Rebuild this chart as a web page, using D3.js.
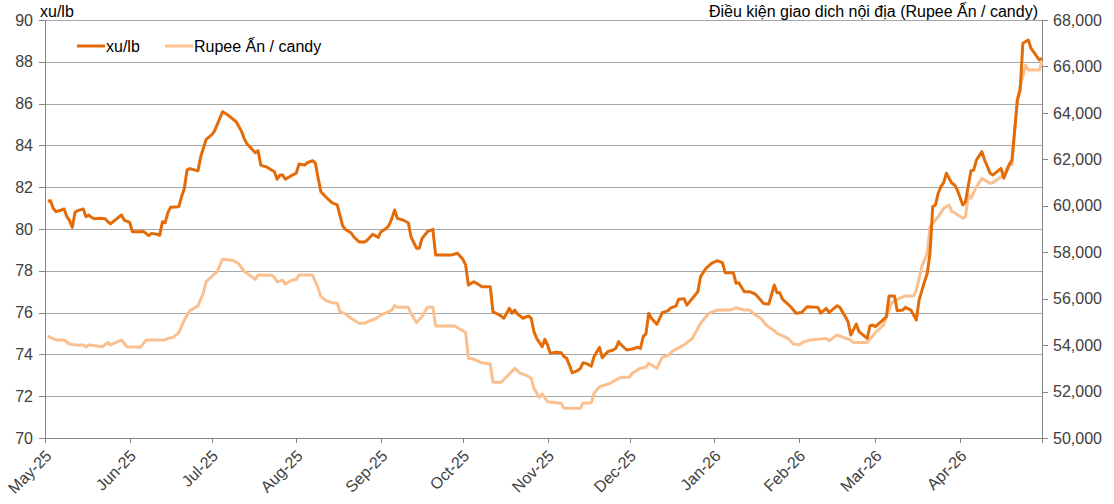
<!DOCTYPE html>
<html lang="vi">
<head>
<meta charset="UTF-8">
<title>xu/lb vs Rupee Ấn / candy</title>
<style>
  body { margin: 0; background: #fff; }
  svg { display: block; font-family: Arial, "Liberation Sans", sans-serif; }
  .grid line { stroke: #a6a6a6; stroke-width: 1; shape-rendering: crispEdges; }
  .axis path, .axis line { stroke: #868686; shape-rendering: crispEdges; }
  .axis text { fill: #404040; font-size: 16px; }
  .title { fill: #000; font-size: 16px; }
  .line { fill: none; stroke-width: 3; stroke-linejoin: round; }
</style>
</head>
<body>
<svg id="chart" width="1114" height="504"></svg>
<script src="https://d3js.org/d3.v7.min.js"></script>
<script>
// xu/lb (left axis)
var sugarDates = [
  "2025-05-02","2025-05-03","2025-05-04","2025-05-05","2025-05-07","2025-05-08","2025-05-09","2025-05-10","2025-05-11","2025-05-12","2025-05-13","2025-05-15","2025-05-16","2025-05-17","2025-05-18","2025-05-19","2025-05-21","2025-05-23","2025-05-24","2025-05-25","2025-05-27","2025-05-29","2025-05-30",
  "2025-06-01","2025-06-02","2025-06-04","2025-06-06","2025-06-07","2025-06-08","2025-06-09","2025-06-11","2025-06-12","2025-06-13","2025-06-14","2025-06-15","2025-06-16","2025-06-19","2025-06-20","2025-06-21","2025-06-22","2025-06-23","2025-06-26","2025-06-27","2025-06-29",
  "2025-07-01","2025-07-02","2025-07-05","2025-07-07","2025-07-10","2025-07-12","2025-07-13","2025-07-14","2025-07-17","2025-07-18","2025-07-19","2025-07-20","2025-07-21","2025-07-24","2025-07-25","2025-07-26","2025-07-27","2025-07-28","2025-07-30",
  "2025-08-01","2025-08-02","2025-08-04","2025-08-05","2025-08-07","2025-08-08","2025-08-09","2025-08-10","2025-08-12","2025-08-14","2025-08-16","2025-08-18","2025-08-19","2025-08-21","2025-08-22","2025-08-24","2025-08-26","2025-08-27","2025-08-29","2025-08-31",
  "2025-09-01","2025-09-03","2025-09-04","2025-09-05","2025-09-06","2025-09-07","2025-09-09","2025-09-11","2025-09-12","2025-09-14","2025-09-15","2025-09-16","2025-09-18","2025-09-20","2025-09-21","2025-09-27","2025-09-29",
  "2025-10-01","2025-10-02","2025-10-03","2025-10-05","2025-10-07","2025-10-08","2025-10-11","2025-10-12","2025-10-14","2025-10-16","2025-10-18","2025-10-19","2025-10-20","2025-10-21","2025-10-23","2025-10-25","2025-10-26","2025-10-27","2025-10-28","2025-10-30","2025-10-31",
  "2025-11-01","2025-11-02","2025-11-04","2025-11-06","2025-11-07","2025-11-08","2025-11-09","2025-11-10","2025-11-12","2025-11-13","2025-11-14","2025-11-15","2025-11-17","2025-11-18","2025-11-20","2025-11-21","2025-11-23","2025-11-25","2025-11-26","2025-11-27","2025-11-28","2025-11-30",
  "2025-12-02","2025-12-04","2025-12-05","2025-12-06","2025-12-07","2025-12-08","2025-12-09","2025-12-11","2025-12-13","2025-12-15","2025-12-16","2025-12-18","2025-12-19","2025-12-21","2025-12-22","2025-12-24","2025-12-26","2025-12-27","2025-12-29","2025-12-31",
  "2026-01-02","2026-01-04","2026-01-05","2026-01-08","2026-01-09","2026-01-10","2026-01-12","2026-01-14","2026-01-16","2026-01-18","2026-01-19","2026-01-21","2026-01-23","2026-01-24","2026-01-25","2026-01-26","2026-01-29","2026-01-31",
  "2026-02-02","2026-02-04","2026-02-08","2026-02-09","2026-02-11","2026-02-12","2026-02-15","2026-02-16","2026-02-18","2026-02-19","2026-02-20","2026-02-22","2026-02-23","2026-02-26","2026-02-27","2026-02-28",
  "2026-03-01","2026-03-03","2026-03-05","2026-03-06","2026-03-08","2026-03-09","2026-03-11","2026-03-12","2026-03-14","2026-03-16","2026-03-17","2026-03-19","2026-03-20","2026-03-21","2026-03-22","2026-03-23","2026-03-24","2026-03-25","2026-03-26","2026-03-27","2026-03-29","2026-03-30","2026-03-31",
  "2026-04-02","2026-04-03","2026-04-05","2026-04-06","2026-04-07","2026-04-09","2026-04-10","2026-04-12","2026-04-13","2026-04-16","2026-04-17","2026-04-19","2026-04-20","2026-04-22","2026-04-23","2026-04-24","2026-04-26","2026-04-27","2026-04-30","2026-05-01"
];
var sugarPrices = [
  81.34,81.35,80.99,80.83,80.91,80.96,80.59,80.40,80.08,80.80,80.88,80.96,80.59,80.67,80.56,80.49,80.51,80.49,80.35,80.25,80.46,80.67,80.43,
  80.32,79.87,79.87,79.88,79.79,79.68,79.79,79.75,79.70,80.35,80.30,80.78,81.04,81.07,81.55,81.93,82.82,82.89,82.78,83.46,84.29,
  84.50,84.67,85.61,85.45,85.13,84.66,84.29,84.07,83.65,83.75,83.06,83.01,82.98,82.74,82.38,82.58,82.58,82.38,82.54,
  82.67,83.11,83.06,83.17,83.27,83.14,82.43,81.78,81.51,81.26,81.15,80.14,79.98,79.82,79.63,79.38,79.38,79.47,79.75,79.60,
  79.87,80.03,80.19,80.51,80.91,80.51,80.43,80.30,79.63,79.08,79.08,79.54,79.87,79.98,78.76,78.76,78.84,
  78.55,78.28,77.32,77.48,77.32,77.24,77.24,76.04,75.92,75.73,76.21,75.97,76.12,75.93,75.73,75.84,75.73,75.09,74.77,74.37,74.72,
  74.45,74.05,74.10,74.08,73.89,73.81,73.49,73.12,73.22,73.33,73.60,73.57,73.44,73.89,74.34,73.84,74.13,74.21,74.29,74.61,74.45,74.21,
  74.26,74.34,74.29,74.85,74.98,75.97,75.73,75.44,76.00,76.08,76.21,76.32,76.64,76.66,76.36,76.68,77.00,77.72,78.12,78.36,
  78.48,78.39,77.91,77.91,77.40,77.43,77.00,77.00,76.89,76.60,76.44,76.41,77.32,76.95,76.95,76.64,76.28,75.97,
  76.00,76.28,76.25,75.97,76.20,76.00,76.33,76.25,75.80,75.56,74.93,75.45,75.09,74.77,75.36,75.41,
  75.33,75.56,75.80,76.79,76.79,76.09,76.12,76.25,76.12,75.65,76.60,77.48,77.88,78.84,81.07,81.15,81.71,82.03,82.22,82.67,82.19,82.11,81.87,
  81.15,81.31,82.79,82.82,83.30,83.70,83.30,82.67,82.58,82.90,82.43,83.06,83.30,86.17,86.65,88.89,89.04,88.64,88.09,88.17
];

// Rupee An / candy (right axis)
var rupeeDates = [
  "2025-05-02","2025-05-05","2025-05-08","2025-05-10","2025-05-12","2025-05-15","2025-05-16","2025-05-17","2025-05-22","2025-05-24","2025-05-25","2025-05-29","2025-05-31",
  "2025-06-05","2025-06-07","2025-06-14","2025-06-15","2025-06-17","2025-06-19","2025-06-21","2025-06-23","2025-06-26","2025-06-28","2025-06-29",
  "2025-07-01","2025-07-03","2025-07-05","2025-07-09","2025-07-11","2025-07-13","2025-07-14","2025-07-17","2025-07-18","2025-07-23","2025-07-24","2025-07-25","2025-07-27","2025-07-28","2025-07-30",
  "2025-08-01","2025-08-02","2025-08-07","2025-08-08","2025-08-09","2025-08-10","2025-08-12","2025-08-14","2025-08-16","2025-08-17","2025-08-19","2025-08-21","2025-08-24","2025-08-26","2025-08-28","2025-08-30",
  "2025-09-01","2025-09-03","2025-09-05","2025-09-06","2025-09-07","2025-09-11","2025-09-12","2025-09-14","2025-09-16","2025-09-18","2025-09-20","2025-09-21","2025-09-28","2025-09-30",
  "2025-10-02","2025-10-03","2025-10-05","2025-10-08","2025-10-11","2025-10-12","2025-10-15","2025-10-17","2025-10-20","2025-10-22","2025-10-24","2025-10-26","2025-10-27","2025-10-29","2025-10-30",
  "2025-11-01","2025-11-06","2025-11-07","2025-11-13","2025-11-14","2025-11-17","2025-11-18","2025-11-20","2025-11-24","2025-11-26","2025-11-28",
  "2025-12-01","2025-12-02","2025-12-05","2025-12-07","2025-12-08","2025-12-11","2025-12-13","2025-12-15","2025-12-17","2025-12-21","2025-12-24","2025-12-27","2025-12-29","2025-12-30",
  "2026-01-02","2026-01-07","2026-01-09","2026-01-12","2026-01-14","2026-01-16","2026-01-18","2026-01-20","2026-01-23","2026-01-24","2026-01-28","2026-01-30",
  "2026-02-01","2026-02-03","2026-02-05","2026-02-11","2026-02-12","2026-02-15","2026-02-17","2026-02-20","2026-02-21","2026-02-26","2026-02-28",
  "2026-03-01","2026-03-04","2026-03-05","2026-03-07","2026-03-09","2026-03-12","2026-03-15","2026-03-16","2026-03-18","2026-03-20","2026-03-21","2026-03-22","2026-03-24","2026-03-26","2026-03-28","2026-03-29","2026-03-30",
  "2026-04-02","2026-04-03","2026-04-04","2026-04-05","2026-04-07","2026-04-09","2026-04-12","2026-04-13","2026-04-17","2026-04-19","2026-04-20","2026-04-21","2026-04-22","2026-04-23","2026-04-25","2026-04-26","2026-04-30","2026-05-01"
];
var rupeePrices = [
  54390,54220,54220,54050,54010,54010,53910,54010,53930,54120,54010,54220,53930,
  53910,54220,54220,54290,54340,54540,55080,55480,55690,56260,56730,
  56950,57160,57700,57640,57490,57160,57090,56830,57020,57010,56920,56720,56800,56630,56780,
  56830,57020,57020,56730,56450,56090,55910,55830,55800,55440,55340,55160,54940,54940,55050,55130,
  55300,55400,55510,55700,55630,55630,55370,54970,55220,55630,55630,54820,54820,54680,
  54540,53430,53390,53240,53190,52400,52400,52640,53000,52790,52710,52570,52140,51750,51900,
  51560,51500,51280,51280,51500,51520,51930,52210,52360,52500,52620,
  52620,52790,53000,53050,53220,53000,53480,53550,53760,54010,54290,54940,55220,55370,
  55510,55510,55610,55510,55510,55300,55160,54870,54620,54510,54290,54050,
  54010,54150,54220,54290,54190,54440,54340,54220,54110,54110,54390,
  54540,54870,55200,55830,55970,56120,56120,56370,57380,57950,59100,59250,59530,59890,60030,59750,59700,
  59460,59530,60470,60320,60820,61180,60970,60990,61330,61830,61760,63260,64630,65130,66060,65850,65850,66200
];

var leftTicks = [70, 72, 74, 76, 78, 80, 82, 84, 86, 88, 90];
var rightTicks = [50000, 52000, 54000, 56000, 58000, 60000, 62000, 64000, 66000, 68000];
var seriesNames = ["xu/lb", "Rupee Ấn / candy"];
var leftTitle = "xu/lb";
var rightTitle = "Điều kiện giao dich nội địa (Rupee Ấn / candy)";

var parse = d3.utcParse("%Y-%m-%d");
var sugar = sugarDates.map(function (d, i) { return { date: parse(d), value: sugarPrices[i] }; });
var rupee = rupeeDates.map(function (d, i) { return { date: parse(d), value: rupeePrices[i] }; });

var svg = d3.select("#chart");
var margin = { top: 20, right: 72, bottom: 66, left: 45 },
    width = +svg.attr("width") - margin.left - margin.right,
    height = +svg.attr("height") - margin.top - margin.bottom;

var x = d3.scaleUtc().domain([parse("2025-05-01"), parse("2026-05-01")]).range([0, width]);
var yL = d3.scaleLinear().domain([70, 90]).range([height, 0]);
var yR = d3.scaleLinear().domain([50000, 68000]).range([height, 0]);

var g = svg.append("g").attr("transform", "translate(" + margin.left + "," + margin.top + ")");

// gridlines
g.append("g").attr("class", "grid")
  .selectAll("line").data(leftTicks).enter().append("line")
  .attr("x1", 0).attr("x2", width)
  .attr("y1", function (d) { return Math.round(yL(d)) + 0.5; })
  .attr("y2", function (d) { return Math.round(yL(d)) + 0.5; });

// axes
g.append("g").attr("class", "axis")
  .call(d3.axisLeft(yL).tickValues(leftTicks).tickSize(6).tickSizeOuter(0).tickPadding(6));

g.append("g").attr("class", "axis")
  .attr("transform", "translate(" + width + ",0)")
  .call(d3.axisRight(yR).tickValues(rightTicks).tickSize(6).tickSizeOuter(0).tickPadding(5)
    .tickFormat(d3.format(",")));

var monthTicks = d3.utcMonth.range(parse("2025-05-01"), parse("2026-05-02"));
var fmt = d3.utcFormat("%b-%y");
var xAxis = g.append("g").attr("class", "axis")
  .attr("transform", "translate(0," + height + ")")
  .call(d3.axisBottom(x).tickValues(monthTicks).tickSize(5).tickSizeOuter(0)
    .tickFormat(function (d, i) { return i === monthTicks.length - 1 ? "" : fmt(d); }));
xAxis.selectAll("text")
  .attr("text-anchor", "end")
  .attr("transform", "translate(3,15) rotate(-45)")
  .attr("dy", "0.35em")
  .attr("y", 0);

// lines
var lineL = d3.line().x(function (d) { return x(d.date); }).y(function (d) { return yL(d.value); });
var lineR = d3.line().x(function (d) { return x(d.date); }).y(function (d) { return yR(d.value); });

g.append("path").datum(rupee).attr("class", "line").attr("stroke", "#fac090").attr("d", lineR);
g.append("path").datum(sugar).attr("class", "line").attr("stroke", "#e36c09").attr("d", lineL);

// titles
svg.append("text").attr("class", "title").attr("x", 40).attr("y", 17).text(leftTitle);
svg.append("text").attr("class", "title").attr("x", 1038).attr("y", 17)
  .attr("text-anchor", "end").text(rightTitle);

// legend
var legendColors = ["#e36c09", "#fac090"];
var legendX = [77, 165];
var legend = svg.append("g");
seriesNames.forEach(function (name, i) {
  legend.append("line")
    .attr("x1", legendX[i]).attr("x2", legendX[i] + 28)
    .attr("y1", 46).attr("y2", 46)
    .attr("stroke", legendColors[i]).attr("stroke-width", 3);
  legend.append("text").attr("class", "title")
    .attr("x", legendX[i] + 29).attr("y", 52).attr("fill", "#404040").text(name);
});
</script>
</body>
</html>
